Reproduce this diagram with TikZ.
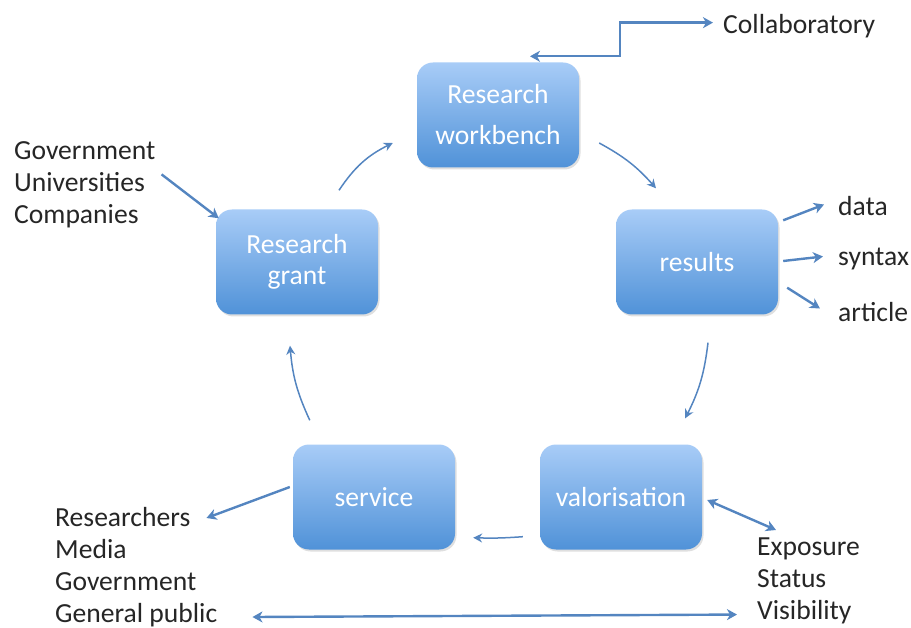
\documentclass[tikz,border=0pt]{standalone}
\usepackage{fontspec}
\setmainfont{Carlito}
\usetikzlibrary{
  arrows.meta,
  calc,
  shadows
}
\definecolor{boxtop}{RGB}{168,204,247}
\definecolor{boxbot}{RGB}{80,146,216}
\definecolor{arrowblue}{RGB}{84,133,192}

\begin{document}
\begin{tikzpicture}[
  x=1pt,
  y=-1pt,
  stage/.style={
    draw=none,
    rectangle,
    rounded corners=16pt,
    minimum width=162pt,
    minimum height=105pt,
    top color=boxtop,
    bottom color=boxbot,
    text=white,
    align=center,
    font=\fontsize{27.6}{34}\selectfont,
    drop shadow={opacity=0.25,shadow xshift=1.5pt,shadow yshift=-2pt},
  },
  label/.style={
    inner sep=0pt,
    align=left,
    text=black!85,
    font=\fontsize{27.6}{32}\selectfont,
  },
  cycle/.style={
    draw=arrowblue,
    line width=1.5pt,
    -{Stealth[length=9pt,width=9pt,inset=3pt]},
  },
  side/.style={
    draw=arrowblue,
    line width=2.4pt,
    -{Stealth[length=10pt,width=11pt,inset=3pt]},
  },
  both/.style={
    side,
    {Stealth[length=10pt,width=11pt,inset=3pt]}-{Stealth[length=10pt,width=11pt,inset=3pt]},
  },
]
\useasboundingbox (0,0) rectangle (911,628);

% Boxes
\node[stage,font=\fontsize{27.6}{41}\selectfont] (wb) at (498,115) {Research\\workbench};
\node[stage,font=\fontsize{27.6}{31}\selectfont] (grant) at (297,262) {Research\\grant};
\node[stage] (results) at (697,262) {results};
\node[stage] (service) at (374,497) {service};
\node[stage] (val) at (621,497) {valorisation};

% Labels
\node[label,anchor=base west] (collab) at (723,34) {Collaboratory};
\node[label,anchor=north west] (gov) at (14,141) {Government\\Universities\\Companies};
\node[label,anchor=base west] (data) at (838,216) {data};
\node[label,anchor=base west] (syntax) at (838,266) {syntax};
\node[label,anchor=base west] (article) at (838,322) {article};
\node[label,anchor=north west] (public) at (55,507) {Researchers\\Media\\Government\\General public};
\node[label,anchor=north west] (exposure) at (757,538) {Exposure\\Status\\Visibility};

% Cycle arrows
\draw[cycle] ($(grant.north)+(42,-19)$) to[bend left=15] ($(wb.west)+(-24,28)$);
\draw[cycle] ($(wb.east)+(20,28)$) to[bend left=10] ($(results.north)+(-41,-21)$);
\draw[cycle] ($(results.south)+(11,28)$) to[bend left=10] ($(val.north east)+(-17,-26)$);
\draw[cycle] ($(val.south west)+(-17,-13)$) to[bend left=3] ($(service.south east)+(18,-12)$);
\draw[cycle] ($(service.north west)+(17,-24)$) to[bend left=10] ($(grant.south)+(-7,31)$);

% Side arrows
\draw[both] ($(wb.north)+(32,-6)$) -- ++(90,0) |- ($(collab.west)+(-10,-4)$);
\draw[side] ($(gov.east)+(6,-10)$) -- ($(grant.north west)+(3,9)$);
\draw[side] ($(results.north east)+(5,11)$) -- ($(data.west)+(-14,-2)$);
\draw[side] ($(results.east)+(5,-1)$) -- ($(syntax.west)+(-15,-3)$);
\draw[side] ($(results.south east)+(9,-27)$) -- ($(article.west)+(-18,-4)$);
\draw[side] ($(service.west)+(-3,-10)$) -- ($(public.north east)+(-11,11)$);
\draw[both] ($(val.east)+(5,3)$) -- ($(exposure.north west)+(19,-8)$);
\draw[both] ($(public.south east)+(35,-10)$) -- ($(exposure.south west)+(-20,-10)$);

\end{tikzpicture}
\end{document}
